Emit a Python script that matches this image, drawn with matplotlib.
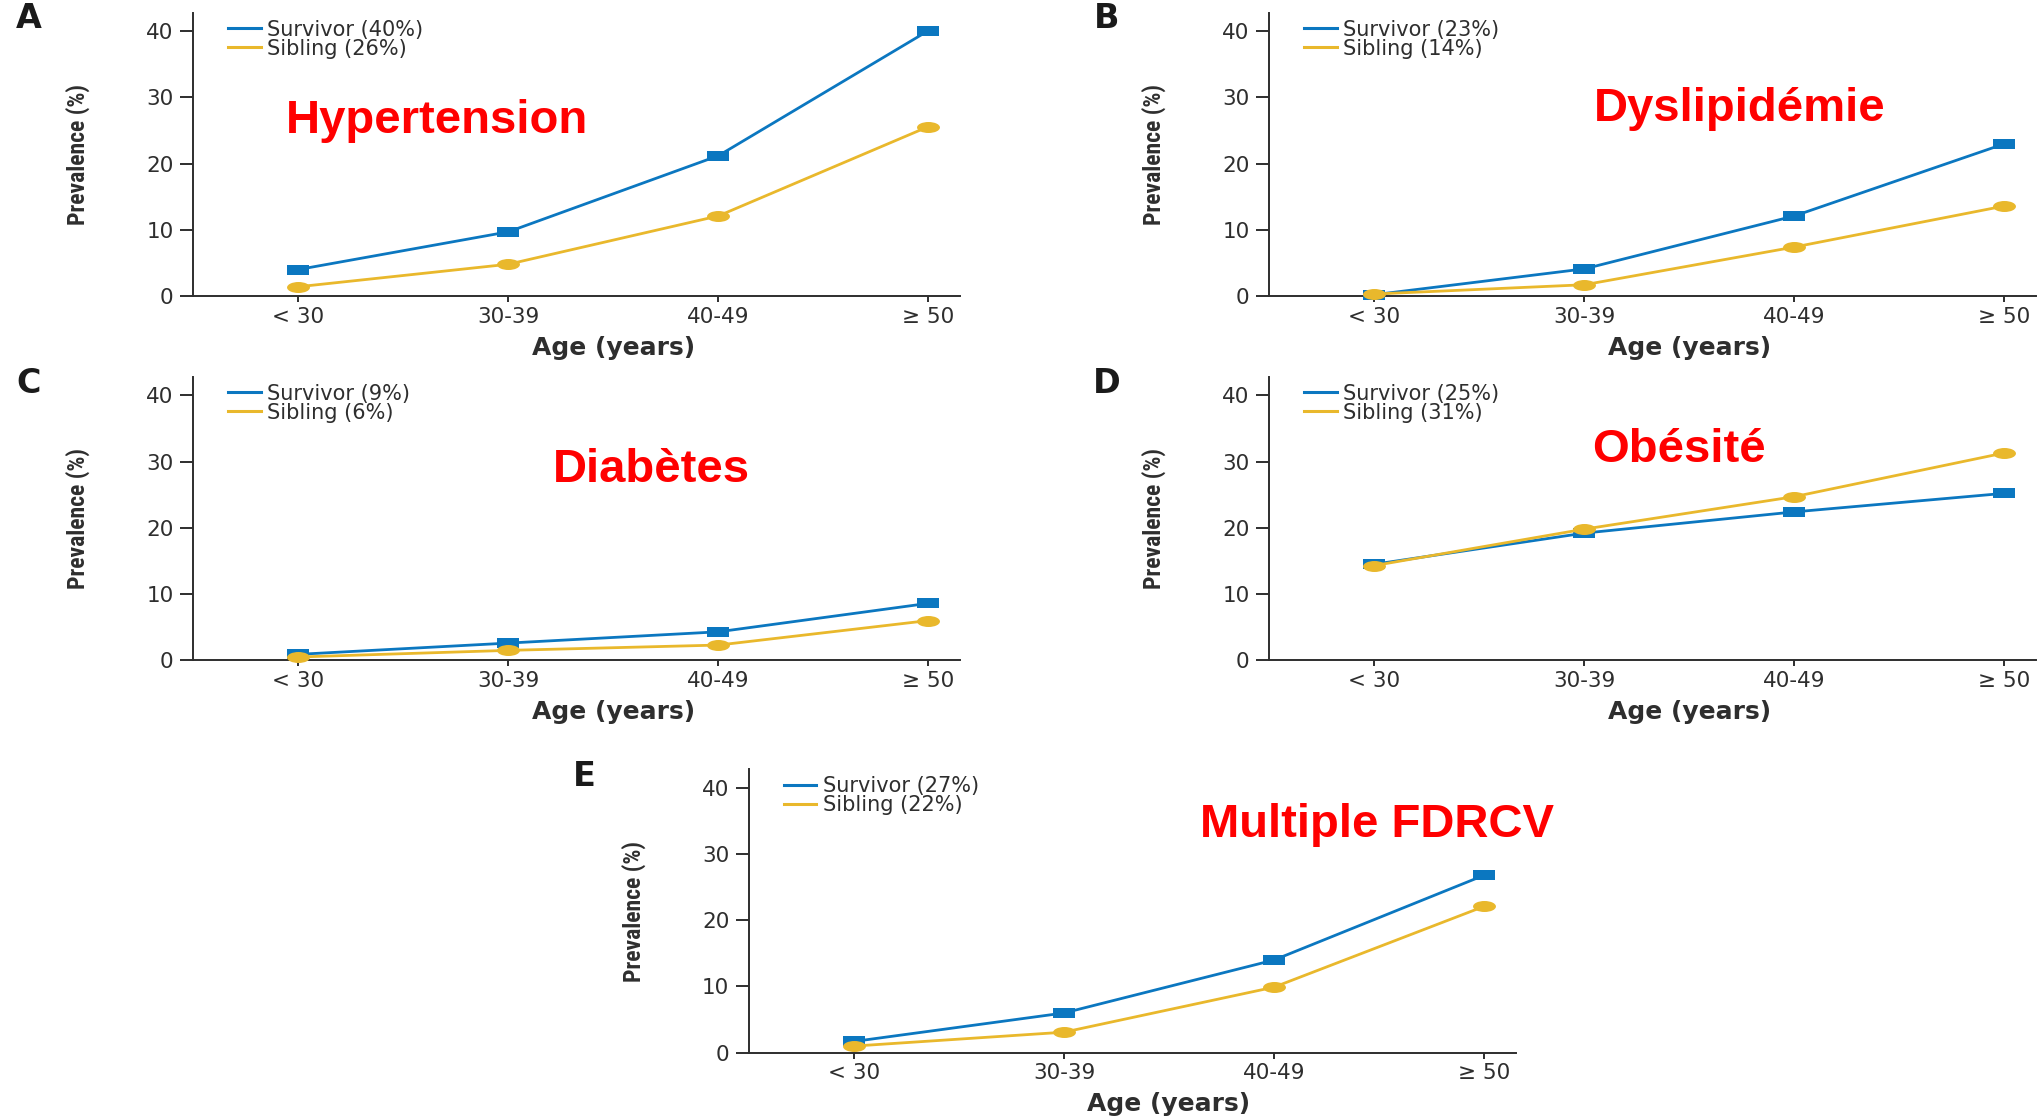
import matplotlib
matplotlib.use("Agg")
import matplotlib.pyplot as plt
from matplotlib import font_manager as fm
from matplotlib.lines import Line2D
from matplotlib.path import Path
from matplotlib.transforms import Affine2D
import numpy as np

# ---------------------------------------------------------------- data
age_groups = ["< 30", "30-39", "40-49", "\u2265 50"]

hypertension_survivor = [4.0, 9.7, 21.2, 40.1]
hypertension_sibling = [1.4, 4.8, 12.1, 25.6]

dyslipidemia_survivor = [0.2, 4.1, 12.1, 23.0]
dyslipidemia_sibling = [0.3, 1.7, 7.4, 13.6]

diabetes_survivor = [0.9, 2.6, 4.3, 8.6]
diabetes_sibling = [0.5, 1.5, 2.3, 6.0]

obesity_survivor = [14.5, 19.2, 22.4, 25.2]
obesity_sibling = [14.3, 19.8, 24.7, 31.3]

multiple_survivor = [1.7, 6.0, 14.0, 26.8]
multiple_sibling = [1.0, 3.1, 9.9, 22.1]

panel_letters = ["A", "B", "C", "D", "E"]
panel_titles = ["Hypertension", "Dyslipidémie", "Diabètes", "Obésité", "Multiple FDRCV"]

# ---------------------------------------------------------------- style
W, H = 2044, 1118
BLUE = "#0B77C0"
YELLOW = "#E9B82C"
INK = "#2E2E2E"

available = {f.name for f in fm.fontManager.ttflist}


def pick(*names):
    for n in names:
        if n in available:
            return n
    return "DejaVu Sans"


NARROW = pick("Liberation Sans Narrow", "Roboto Condensed", "Open Sans Condensed")
NARROW_OK = NARROW != "DejaVu Sans"
TITLE_FONT = pick("Liberation Sans", "Arimo", "DejaVu Sans")

plt.rcParams["font.family"] = ["DejaVu Sans"]

# wide, flat markers
sq_path = Path([(-1, -0.44), (1, -0.44), (1, 0.44), (-1, 0.44), (-1, -0.44)],
               [Path.MOVETO, Path.LINETO, Path.LINETO, Path.LINETO, Path.CLOSEPOLY])
circ_path = Path.unit_circle().transformed(Affine2D().scale(1.0, 0.48))

# axes boxes in pixels: left, right, top, bottom
layout = [
    (193.4, 960.0, 12.7, 296.0),
    (1269.4, 2036.0, 12.7, 296.0),
    (193.4, 960.0, 376.7, 660.3),
    (1269.4, 2036.0, 376.7, 660.3),
    (749.0, 1515.6, 769.3, 1052.7),
]
letter_pos = [(29, 19), (1107, 19), (29, 383), (1107, 383), (584, 777)]
title_pos = [(437, 133), (1740, 121), (651, 482), (1679, 462), (1377, 837)]

series = [
    (hypertension_survivor, hypertension_sibling),
    (dyslipidemia_survivor, dyslipidemia_sibling),
    (diabetes_survivor, diabetes_sibling),
    (obesity_survivor, obesity_sibling),
    (multiple_survivor, multiple_sibling),
]

fig = plt.figure(figsize=(W / 100, H / 100), dpi=100)
fig.patch.set_facecolor("white")

x = np.arange(len(age_groups))

for i, (surv, sib) in enumerate(series):
    l, r, t, b = layout[i]
    ax = fig.add_axes([l / W, 1 - b / H, (r - l) / W, (b - t) / H])

    ax.plot(x, surv, color=BLUE, lw=2.0, marker=sq_path, markersize=16.3,
            mew=0, mfc=BLUE, zorder=3, clip_on=False)
    ax.plot(x, sib, color=YELLOW, lw=2.0, marker=circ_path, markersize=16.5,
            mew=0, mfc=YELLOW, zorder=4, clip_on=False)

    ax.set_xlim(-0.5, 3.15)
    ax.set_ylim(0, 42.8)
    ax.set_xticks(x)
    ax.set_xticklabels(age_groups)
    ax.set_yticks([0, 10, 20, 30, 40])

    for side in ("top", "right"):
        ax.spines[side].set_visible(False)
    for side in ("left", "bottom"):
        ax.spines[side].set_color(INK)
        ax.spines[side].set_linewidth(1.4)

    ax.tick_params(axis="y", length=9.2, width=1.4, color=INK, pad=5,
                   labelsize=15.5, labelcolor=INK)
    ax.tick_params(axis="x", length=4.1, width=1.4, color=INK, pad=3.6,
                   labelsize=15.5, labelcolor=INK)

    # axis titles
    ax.text(1.5, -0.1825, "Age (years)", transform=ax.get_xaxis_transform(),
            ha="center", va="center", fontsize=18, fontweight="bold", color=INK)
    if NARROW_OK:
        ax.text(-0.1505, 0.5, "Prevalence (%)", transform=ax.transAxes,
                rotation=90, ha="center", va="center", fontsize=17,
                family=NARROW, fontweight="bold", color=INK)
    else:
        ax.text(-0.1505, 0.5, "Prevalence (%)", transform=ax.transAxes,
                rotation=90, ha="center", va="center", fontsize=15,
                fontstretch="condensed", color=INK)

    # legend: overall prevalence at age 50
    labels = [f"Survivor ({int(surv[-1] + 0.5)}%)", f"Sibling ({int(sib[-1] + 0.5)}%)"]
    handles = [Line2D([], [], color=BLUE, lw=2.2), Line2D([], [], color=YELLOW, lw=2.2)]
    leg = ax.legend(handles, labels, loc="upper left", bbox_to_anchor=(0.0455, 0.975),
                    frameon=False, fontsize=15, handlelength=1.55, handletextpad=0.32,
                    labelspacing=-0.06, borderpad=0, borderaxespad=0)
    for txt in leg.get_texts():
        txt.set_color(INK)

    # panel letter and red annotation
    lx, ly = letter_pos[i]
    fig.text(lx / W, 1 - ly / H, panel_letters[i], ha="center", va="center",
             fontsize=24, fontweight="bold", color="#1a1a1a")
    tx, ty = title_pos[i]
    fig.text(tx / W, 1 - ty / H, panel_titles[i], ha="center", va="baseline",
             fontsize=34, fontweight="bold", family=TITLE_FONT, color="#FF0000")

fig.savefig("out.png", dpi=100, facecolor="white")
